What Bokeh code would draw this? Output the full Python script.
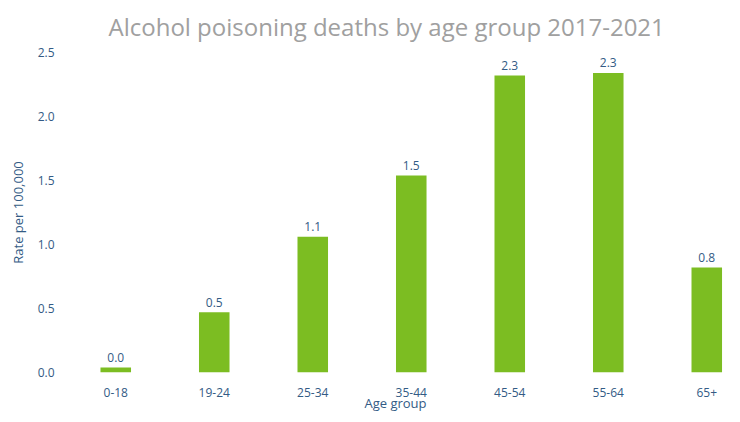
from bokeh.plotting import figure
from bokeh.models import ColumnDataSource, Range1d, FixedTicker, CustomJSTickFormatter
from bokeh.core.properties import value
from bokeh.embed import file_html
from bokeh.resources import INLINE

title_text = "Alcohol poisoning deaths by age group 2017-2021"
age_groups = ["0-18", "19-24", "25-34", "35-44", "45-54", "55-64", "65+"]
rates = [0.04, 0.47, 1.06, 1.54, 2.32, 2.34, 0.82]
y_ticks = [0.0, 0.5, 1.0, 1.5, 2.0, 2.5]

positions = list(range(len(age_groups)))
labels = [f"{r:.1f}" for r in rates]

src = ColumnDataSource(dict(x=positions, top=rates, label=labels))

FONT = "Open Sans"
TXT = "#335b85"
GREEN = "#7cbd22"

p = figure(width=724, height=414, output_backend="svg", toolbar_location=None,
           x_range=Range1d(-0.5, 6.18), y_range=Range1d(0, 2.5),
           min_border_left=66, min_border_right=0, min_border_top=52, min_border_bottom=40,
           title=title_text)

p.vbar(x="x", top="top", width=0.31, bottom=0, source=src, fill_color=GREEN, line_color=None)
p.text(x="x", y="top", text="label", source=src, text_align="center", text_baseline="alphabetic",
       y_offset=-10, text_font=value(FONT), text_font_size="12px", text_color=TXT)

p.title.text_font = FONT
p.title.text_font_size = "24px"
p.title.text_font_style = "normal"
p.title.text_color = "#a0a0a0"
p.title.align = "left"
p.title.offset = 42
p.title.standoff = 16
p.title.vertical_align = "top"

p.outline_line_color = None
p.xgrid.grid_line_color = None
p.ygrid.grid_line_color = None
p.background_fill_color = "white"
p.border_fill_color = "white"

xa = p.xaxis[0]
xa.ticker = FixedTicker(ticks=positions)
xa.major_label_overrides = {i: g for i, g in zip(positions, age_groups)}
xa.axis_label = "Age group"
ya = p.yaxis[0]
ya.ticker = FixedTicker(ticks=y_ticks)
ya.axis_label = "Rate per 100,000"
ya.formatter = CustomJSTickFormatter(code="return tick.toFixed(1);")

for ax in (xa, ya):
    ax.axis_line_color = None
    ax.major_tick_line_color = None
    ax.minor_tick_line_color = None
    ax.major_tick_out = 0
    ax.major_tick_in = 0
    ax.minor_tick_out = 0
    ax.minor_tick_in = 0
    ax.major_label_text_font = FONT
    ax.major_label_text_font_size = "12px"
    ax.major_label_text_color = TXT
    ax.axis_label_text_font = FONT
    ax.axis_label_text_font_size = "13px"
    ax.axis_label_text_font_style = "normal"
    ax.axis_label_text_color = TXT

xa.major_label_standoff = 15
xa.axis_label_standoff = -6
ya.major_label_standoff = 12
ya.axis_label_standoff = 8

open("out.html", "w").write(file_html(p, INLINE))
